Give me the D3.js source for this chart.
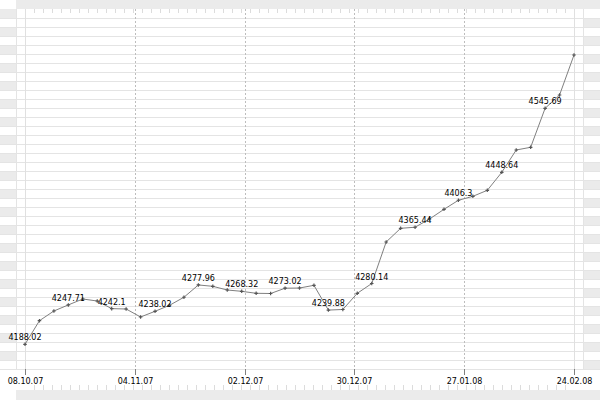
<!DOCTYPE html>
<html>
<head>
<meta charset="utf-8">
<script src="https://cdn.jsdelivr.net/npm/d3@7"></script>
<style>
  html, body { margin: 0; padding: 0; background: #fff; }
  svg { display: block; }
  text { font-family: "DejaVu Sans", Verdana, sans-serif; font-size: 8px; fill: #000; }
</style>
</head>
<body>
<svg id="chart" width="600" height="400"></svg>
<script>
// ---- data ----
const values = [
  4188.02, 4223.8, 4238.5, 4247.71, 4256.7, 4253.6, 4242.1, 4241.5, 4229.4, 4238.02,
  4247.1, 4259.3, 4277.96, 4275.9, 4270.3, 4268.32, 4265.3, 4265.0, 4273.02, 4273.3,
  4277.4, 4239.88, 4240.8, 4265.3, 4280.14, 4343.1, 4363.8, 4365.44, 4377.9, 4392.6,
  4406.3, 4412.3, 4421.4, 4448.64, 4482.5, 4486.6, 4545.69, 4565.8, 4626.5
];
const labelIndices = [0, 3, 6, 9, 12, 15, 18, 21, 24, 27, 30, 33, 36];
const tickLabels = ["08.10.07", "04.11.07", "02.12.07", "30.12.07", "27.01.08", "24.02.08"];
const yDomain = [4150.59, 4682.54];

(function () {
// ---- layout ----
const W = 600, H = 400;
const pLeft = 25, pRight = 574, pTop = 18, pBottom = 369;
const grey = "#ebebeb", gridCol = "#e4e4e4";

const xTick = d3.scalePoint().domain(tickLabels).range([pLeft, pRight]);
const xIdx = d3.scaleLinear().domain([0, values.length - 1]).range([pLeft, pRight]);
const y = d3.scaleLinear().domain(yDomain).range([pBottom, pTop]);

const svg = d3.select("#chart");

// top strip
svg.append("rect").attr("x", 16).attr("y", 0).attr("width", W - 16).attr("height", 9).attr("fill", grey);
// bottom strip
svg.append("rect").attr("x", 16).attr("y", 390).attr("width", W - 16).attr("height", 10).attr("fill", grey);

// left/right alternating bands
const bandRows = d3.range(9, pBottom, 9);
bandRows.forEach((yy, i) => {
  if (i % 2 === 0) {
    svg.append("rect").attr("x", 0).attr("y", yy).attr("width", 16).attr("height", 9).attr("fill", grey);
  } else {
    svg.append("rect").attr("x", 584).attr("y", yy).attr("width", 16).attr("height", 9).attr("fill", grey);
  }
});

// horizontal grid lines
const gridY = d3.range(pTop, pBottom + 1, 9);
svg.append("g").selectAll("line").data(gridY).join("line")
  .attr("x1", 0).attr("x2", W)
  .attr("y1", d => d + 0.5).attr("y2", d => d + 0.5)
  .attr("stroke", gridCol).attr("stroke-width", 1);

// frame verticals
[16, 583].forEach(xx => {
  svg.append("line").attr("x1", xx + 0.5).attr("x2", xx + 0.5).attr("y1", 9).attr("y2", pBottom)
    .attr("stroke", gridCol);
});
[pLeft, pRight].forEach(xx => {
  svg.append("line").attr("x1", xx + 0.5).attr("x2", xx + 0.5).attr("y1", 9).attr("y2", pBottom)
    .attr("stroke", "#e0e0e0");
});

// interior dashed date lines
svg.append("g").selectAll("line").data(tickLabels.slice(1, -1)).join("line")
  .attr("x1", d => Math.round(xTick(d)) + 0.5).attr("x2", d => Math.round(xTick(d)) + 0.5)
  .attr("y1", 9).attr("y2", pBottom)
  .attr("stroke", "#bdbdbd").attr("stroke-dasharray", "2,2");

// minor ticks top and bottom
const minor = d3.range(pLeft, pRight + 1, 9).slice(1, -1);
svg.append("g").selectAll("line").data(minor).join("line")
  .attr("x1", d => d + 0.5).attr("x2", d => d + 0.5).attr("y1", 9).attr("y2", 13)
  .attr("stroke", "#dcdcdc");
svg.append("g").selectAll("line").data(minor).join("line")
  .attr("x1", d => d + 0.5).attr("x2", d => d + 0.5).attr("y1", 385).attr("y2", 390)
  .attr("stroke", "#dcdcdc");

// x axis
const xAxis = d3.axisBottom(xTick).tickSize(6).tickPadding(2);
const gx = svg.append("g").attr("transform", `translate(0.5,${pBottom})`).call(xAxis);
gx.select(".domain").remove();
gx.selectAll(".tick").attr("transform", d => `translate(${Math.round(xTick(d))},0)`);
gx.selectAll(".tick line").attr("stroke", "#808080");
gx.selectAll(".tick text").attr("font-family", "DejaVu Sans, Verdana, sans-serif").attr("font-size", 8).attr("fill", "#000").attr("dy", "0.9em");

// line
const line = d3.line().x((d, i) => xIdx(i)).y(d => y(d));
svg.append("path").datum(values).attr("d", line)
  .attr("fill", "none").attr("stroke", "#808080").attr("stroke-width", 1);

// markers
svg.append("g").selectAll("path").data(values).join("path")
  .attr("transform", (d, i) => `translate(${xIdx(i)},${y(d)})`)
  .attr("d", d3.symbol(d3.symbolCross, 7)())
  .attr("fill", "#555");

// value labels
svg.append("g").selectAll("text").data(labelIndices).join("text")
  .attr("x", i => xIdx(i))
  .attr("y", i => y(values[i]) - 4)
  .attr("text-anchor", "middle")
  .text(i => String(values[i]));
})();
</script>
</body>
</html>
